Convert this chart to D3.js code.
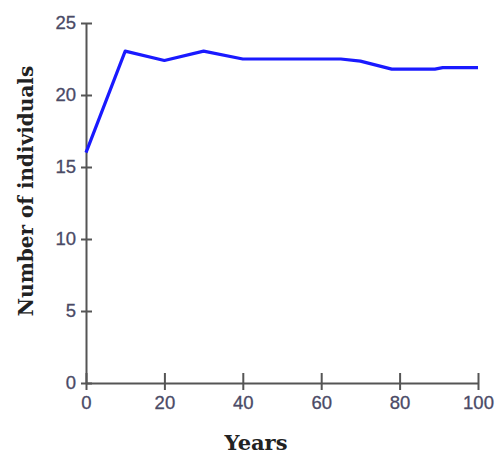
<!DOCTYPE html>
<html>
<head>
<meta charset="utf-8">
<script src="https://cdn.jsdelivr.net/npm/d3@7"></script>
<style>
  body { margin: 0; background: #fff; }
</style>
</head>
<body>
<svg id="chart"></svg>
<script>
// values
const years = [0, 10, 20, 30, 40, 50, 60, 65, 70, 78, 89, 91, 100];
const individuals = [16, 23.05, 22.4, 23.05, 22.5, 22.5, 22.5, 22.5, 22.35, 21.8, 21.8, 21.9, 21.9];
const xTicks = [0, 20, 40, 60, 80, 100];
const yTicks = [0, 5, 10, 15, 20, 25];

const width = 501, height = 462;
const margin = { top: 23, right: 23, bottom: 79, left: 86 };

const svg = d3.select("#chart")
    .attr("width", width)
    .attr("height", height);

const x = d3.scaleLinear()
    .domain([0, 100])
    .range([margin.left, width - margin.right]);

const y = d3.scaleLinear()
    .domain([0, 25])
    .range([height - margin.bottom, margin.top]);

// axes
const yAxis = svg.append("g")
    .attr("transform", `translate(${margin.left},0)`)
    .call(d3.axisLeft(y).tickValues(yTicks).tickSizeInner(5).tickSizeOuter(0).tickPadding(5));

yAxis.selectAll(".tick line").attr("x1", 6);

const xAxis = svg.append("g")
    .attr("transform", `translate(0,${height - margin.bottom})`)
    .call(d3.axisBottom(x).tickValues(xTicks).tickSizeInner(7).tickSizeOuter(0).tickPadding(6));

xAxis.selectAll(".tick line").attr("y1", -10);

svg.selectAll(".domain, .tick line")
    .attr("stroke", "#555")
    .attr("stroke-width", 2);

svg.selectAll(".tick text")
    .attr("fill", "#4a4a66")
    .attr("stroke", "#4a4a66")
    .attr("stroke-width", 0.3)
    .style("font-family", "'Liberation Sans', Arial, sans-serif")
    .style("font-size", "18.5px");

// line
const line = d3.line()
    .x((d, i) => x(years[i]))
    .y(d => y(d));

svg.append("path")
    .datum(individuals)
    .attr("fill", "none")
    .attr("stroke", "#1a1aff")
    .attr("stroke-width", 3.2)
    .attr("stroke-linejoin", "round")
    .attr("d", line);

// titles
svg.append("text")
    .attr("x", 256)
    .attr("y", 450)
    .attr("text-anchor", "middle")
    .attr("font-family", "'DejaVu Serif', serif")
    .attr("font-weight", "bold")
    .attr("font-size", 21)
    .attr("fill", "#222")
    .text("Years");

svg.append("text")
    .attr("transform", "translate(33,191) rotate(-90)")
    .attr("text-anchor", "middle")
    .attr("font-family", "'DejaVu Serif', serif")
    .attr("font-weight", "bold")
    .attr("font-size", 20)
    .attr("fill", "#222")
    .text("Number of individuals");
</script>
</body>
</html>
